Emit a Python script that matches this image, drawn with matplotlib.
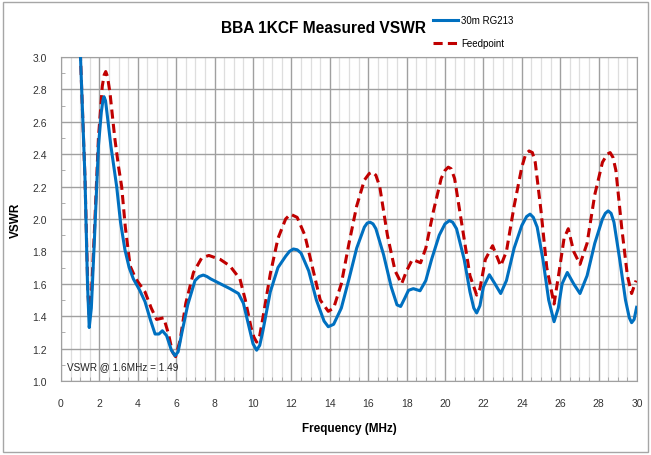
import matplotlib
matplotlib.use('Agg')
import matplotlib.pyplot as plt
from matplotlib.patches import Rectangle
from matplotlib.ticker import MultipleLocator

plt.rcParams['font.family'] = ['Liberation Sans', 'DejaVu Sans']

# 30 m RG213 (blue, solid) -- frequency in MHz, VSWR
RG213_F = [0.95, 1.0, 1.25, 1.38, 1.47, 1.58, 1.75, 1.95, 2.1, 2.18, 2.24, 2.32,
           2.4, 2.6, 2.9, 3.1, 3.33, 3.55, 3.77, 4.1, 4.375, 4.65, 4.9, 5.1,
           5.28, 5.5, 5.75, 5.94, 6.1, 6.3, 6.6, 6.98, 7.2, 7.41, 7.6, 7.8,
           8.3, 8.8, 9.24, 9.5, 9.8, 10.0, 10.19, 10.35, 10.5, 10.9, 11.3, 11.7,
           11.9, 12.1, 12.3, 12.5, 12.9, 13.3, 13.7, 13.92, 14.2, 14.6, 15.0,
           15.4, 15.8, 15.95, 16.1, 16.25, 16.4, 16.8, 17.2, 17.5, 17.69, 17.9,
           18.1, 18.35, 18.7, 19.0, 19.3, 19.7, 20.0, 20.23, 20.4, 20.6, 21.0,
           21.3, 21.5, 21.65, 21.82, 22.0, 22.31, 22.6, 22.9, 23.2, 23.6, 24.0,
           24.25, 24.43, 24.6, 24.8, 25.1, 25.4, 25.68, 25.9, 26.1, 26.37, 26.7,
           27.03, 27.4, 27.8, 28.2, 28.35, 28.5, 28.65, 28.8, 29.1, 29.4, 29.6,
           29.72, 29.85, 29.98]
RG213_V = [3.3, 3.05, 2.25, 1.6, 1.33, 1.45, 1.9, 2.45, 2.66, 2.73, 2.755, 2.73,
           2.65, 2.45, 2.2, 1.98, 1.81, 1.70, 1.63, 1.56, 1.49, 1.38, 1.29, 1.29,
           1.31, 1.28, 1.19, 1.156, 1.18, 1.3, 1.47, 1.62, 1.645, 1.654, 1.645, 1.63,
           1.60, 1.57, 1.54, 1.48, 1.33, 1.23, 1.19, 1.22, 1.3, 1.55, 1.70, 1.77,
           1.80, 1.815, 1.81, 1.79, 1.68, 1.50, 1.37, 1.335, 1.35, 1.45, 1.63,
           1.82, 1.95, 1.975, 1.98, 1.97, 1.94, 1.78, 1.58, 1.47, 1.46, 1.51,
           1.56, 1.57, 1.557, 1.62, 1.75, 1.90, 1.97, 1.99, 1.98, 1.94, 1.75,
           1.55, 1.45, 1.42, 1.465, 1.58, 1.656, 1.60, 1.54, 1.62, 1.82, 1.96,
           2.015, 2.03, 2.01, 1.95, 1.75, 1.50, 1.366, 1.45, 1.60, 1.67, 1.60,
           1.54, 1.65, 1.85, 2.0, 2.035, 2.05, 2.035, 1.98, 1.75, 1.50, 1.39,
           1.36, 1.38, 1.455]

# Feedpoint (red, dashed)
FEED_F = [0.95, 1.0, 1.25, 1.4, 1.47, 1.58, 1.75, 1.95, 2.15, 2.25, 2.33, 2.42,
          2.55, 2.8, 3.0, 3.16, 3.35, 3.6, 3.9, 4.375, 4.7, 4.98, 5.35, 5.6,
          5.8, 5.97, 6.2, 6.5, 6.9, 7.33, 7.7, 8.3, 8.8, 9.32, 9.6, 9.9, 10.05,
          10.19, 10.35, 10.5, 10.9, 11.3, 11.7, 11.95, 12.3, 12.7, 13.1, 13.5,
          13.92, 14.2, 14.6, 15.0, 15.4, 15.8, 16.05, 16.23, 16.4, 16.6, 17.0,
          17.4, 17.74, 18.0, 18.3, 18.73, 19.0, 19.4, 19.8, 20.0, 20.17, 20.32,
          20.5, 20.9, 21.3, 21.65, 21.82, 22.1, 22.48, 22.9, 23.2, 23.6, 24.0,
          24.2, 24.38, 24.55, 24.7, 25.0, 25.3, 25.68, 25.95, 26.2, 26.42, 26.7,
          27.03, 27.4, 27.8, 28.2, 28.45, 28.6, 28.75, 28.9, 29.2, 29.5, 29.72,
          29.95]
FEED_V = [3.3, 3.05, 2.25, 1.55, 1.41, 1.52, 1.95, 2.5, 2.82, 2.89, 2.91, 2.88,
          2.78, 2.50, 2.32, 2.2, 1.95, 1.71, 1.63, 1.55, 1.45, 1.38, 1.39, 1.29,
          1.18, 1.15, 1.25, 1.48, 1.67, 1.76, 1.775, 1.75, 1.71, 1.63, 1.50, 1.33,
          1.27, 1.24, 1.28, 1.38, 1.66, 1.88, 2.0, 2.03, 2.01, 1.90, 1.70, 1.50,
          1.43, 1.45, 1.60, 1.85, 2.08, 2.24, 2.28, 2.29, 2.27, 2.20, 1.90,
          1.68, 1.60, 1.68, 1.75, 1.73, 1.82, 2.05, 2.25, 2.30, 2.32, 2.31,
          2.25, 1.95, 1.65, 1.53, 1.57, 1.75, 1.835, 1.71, 1.80, 2.08, 2.32,
          2.40, 2.42, 2.41, 2.35, 2.05, 1.70, 1.475, 1.68, 1.88, 1.94, 1.80,
          1.72, 1.85, 2.15, 2.35, 2.40, 2.41, 2.38, 2.30, 1.95, 1.65, 1.54,
          1.62]

X_TICKS = list(range(0, 31, 2))
Y_TICKS = [1.0, 1.2, 1.4, 1.6, 1.8, 2.0, 2.2, 2.4, 2.6, 2.8, 3.0]

fig = plt.figure(figsize=(6.51, 4.56), dpi=100)
fig.patches.append(Rectangle((0.005, 0.007), 0.99, 0.986, transform=fig.transFigure,
                             fill=False, edgecolor='#a6a6a6', linewidth=1.0))
ax = fig.add_axes([0.0937, 0.1623, 0.8848, 0.7105])

ax.plot(RG213_F, RG213_V, color='#0070c0', linewidth=2.2, label='30m RG213',
        solid_joinstyle='round', zorder=4)
ax.plot(FEED_F, FEED_V, color='#c00000', linewidth=2.2, linestyle=(0, (3.0, 1.7)),
        label='Feedpoint', zorder=3)

ax.set_xlim(0, 30)
ax.set_ylim(1.0, 3.0)
ax.set_xticks(X_TICKS)
ax.set_yticks(Y_TICKS)
ax.set_yticklabels([f'{v:.1f}' for v in Y_TICKS])
ax.xaxis.set_minor_locator(MultipleLocator(0.5))
ax.yaxis.set_minor_locator(MultipleLocator(0.1))
ax.grid(which='major', axis='both', color='#a0a0a0', linewidth=1.0)
ax.grid(which='minor', axis='x', color='#dedede', linewidth=0.9)
ax.set_axisbelow(True)
ax.tick_params(which='major', length=0, labelsize=7.5, pad=12, colors='#333333')
ax.tick_params(axis='y', which='major', pad=10)
ax.tick_params(which='minor', direction='in', length=3, color='#a0a0a0')
for s in ax.spines.values():
    s.set_color('#a0a0a0')

ax.set_xlabel('Frequency (MHz)', fontsize=8.5, fontweight='bold', labelpad=10)
ax.set_ylabel('VSWR', fontsize=8.5, fontweight='bold')
ax.yaxis.set_label_coords(-0.068, 0.5)
fig.text(0.497, 0.937, 'BBA 1KCF Measured VSWR', ha='center', va='center',
         fontsize=11.2, fontweight='bold')
ax.text(0.3, 1.09, 'VSWR @ 1.6MHz = 1.49', fontsize=7.2, color='#222222',
        va='center', ha='left')

ax.legend(loc='upper left', bbox_to_anchor=(0.652, 0.984), bbox_transform=fig.transFigure,
          frameon=False, fontsize=7, handlelength=2.5, labelspacing=1.35,
          handletextpad=0.4)

fig.savefig('out.png', dpi=100)
